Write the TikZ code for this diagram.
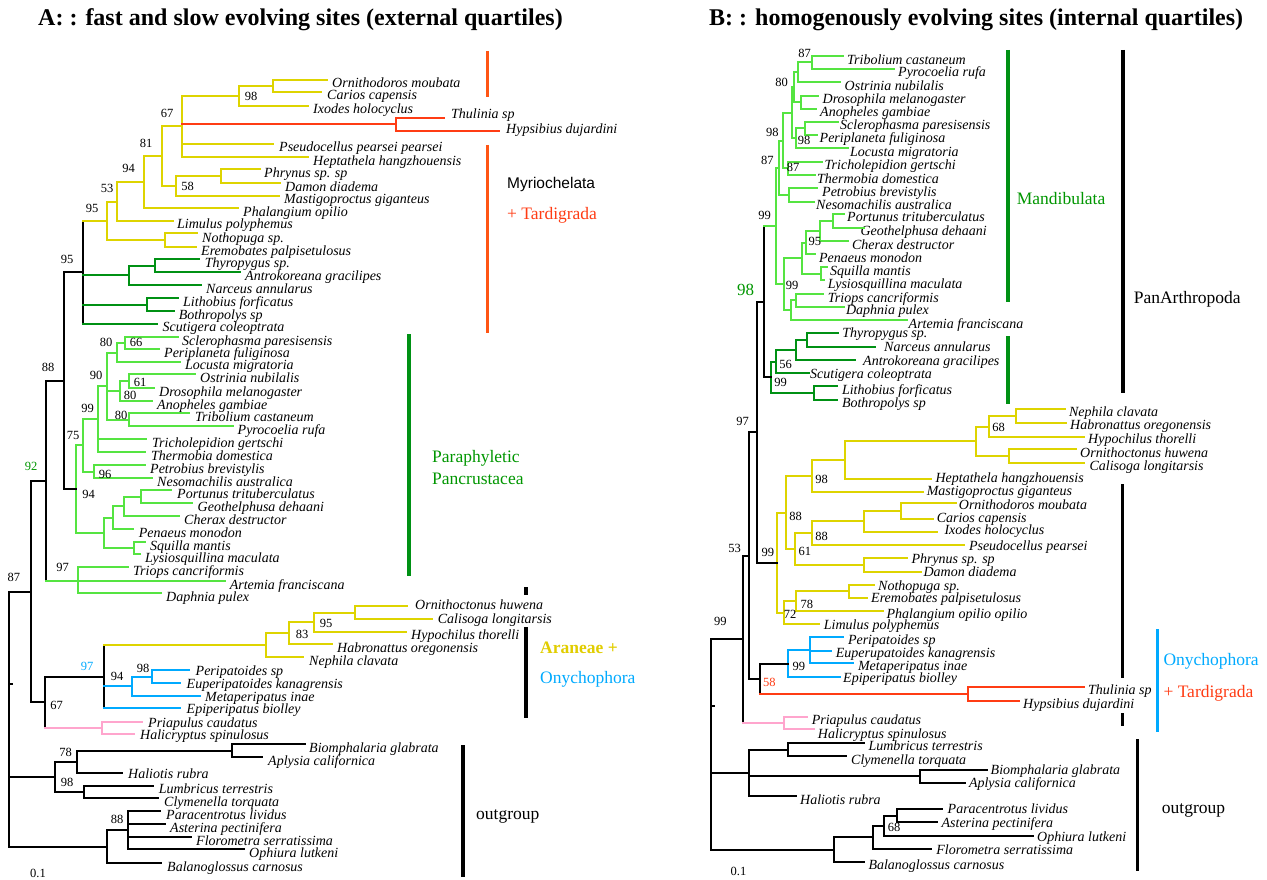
\documentclass[tikz,border=0pt]{standalone}
\usepackage{fontspec}
\setmainfont{Liberation Serif}
\newfontfamily\sansf{Liberation Sans}
\definecolor{cY}{RGB}{222,212,0}
\definecolor{cLG}{RGB}{85,228,65}
\definecolor{cDG}{RGB}{0,145,20}
\definecolor{cR}{RGB}{255,60,20}
\definecolor{cB}{RGB}{0,170,255}
\definecolor{cP}{RGB}{255,165,205}
\definecolor{cBarR}{RGB}{255,85,20}
\definecolor{cTxtG}{RGB}{0,150,0}
\definecolor{cTxtY}{RGB}{225,205,0}
\tikzset{
  ln/.style={line width=2pt,line cap=rect},
  lnY/.style={ln,draw=cY}, lnG/.style={ln,draw=cLG}, lnD/.style={ln,draw=cDG},
  lnR/.style={ln,draw=cR}, lnB/.style={ln,draw=cB}, lnP/.style={ln,draw=cP},
  lnK/.style={ln,draw=black},
  leaf/.style={anchor=base west,inner sep=0pt,font=\fontsize{14}{16}\selectfont\itshape},
  bs/.style={inner sep=0pt,font=\fontsize{12.5}{14}\selectfont},
  grp/.style={anchor=west,inner sep=0pt,font=\fontsize{17.5}{20}\selectfont},
  ttl/.style={anchor=base west,inner sep=0pt,font=\fontsize{24}{26}\selectfont\bfseries},
  gbar/.style={line width=3.5pt}
}
\newcommand\Lf[6]{\coordinate (#1) at (#2,#3);\node[leaf] (t#1) at (#4,#3+#5) {#6};}
\newcommand\Vt[4]{\draw[#1] (#2 |- #3) -- (#2 |- #4);}
\newcommand\Hz[3]{\draw[#1] (#2 |- #3) -- (#3);}
\newcommand\Bs[4]{\node[bs] (#1) at (#2,#3) {#4};}
\begin{document}
\begin{tikzpicture}[x=1pt,y=-1pt]
\useasboundingbox (0,0) rectangle (1267,880);
% titles
\node[ttl] (titleA) at (38,26) {A: : fast and slow evolving sites (external quartiles)};
\node[ttl] (titleB) at (709,26) {B: : homogenously evolving sites (internal quartiles)};
% ================= PANEL A leaves
\Lf{aOrn}{327}{80}{332}{7.5}{Ornithodoros moubata}
\Lf{aCar}{321}{92}{327}{8}{Carios capensis}
\Lf{aIxo}{308}{106}{313}{7.5}{Ixodes holocyclus}
\Lf{aThu}{444}{118}{451}{1}{Thulinia sp}
\Lf{aHyp}{499}{131}{506}{3}{Hypsibius dujardini}
\Lf{aPse}{273}{144}{279}{8}{Pseudocellus pearsei pearsei}
\Lf{aHep}{308}{157}{313}{8.5}{Heptathela hangzhouensis}
\Lf{aPhr}{260}{169}{264}{9}{Phrynus sp. sp}
\Lf{aDam}{280}{183}{285}{8}{Damon diadema}
\Lf{aMas}{279}{196}{284}{8}{Mastigoproctus giganteus}
\Lf{aPha}{237.5}{208}{243}{8}{Phalangium opilio}
\Lf{aLim}{172.5}{221}{177}{7.5}{Limulus polyphemus}
\Lf{aNot}{197}{233}{202}{9}{Nothopuga sp.}
\Lf{aEre}{196}{247}{201}{8}{Eremobates palpisetulosus}
\Lf{aThy}{199}{259}{204.6}{8}{Thyropygus sp.}
\Lf{aAnt}{240}{272}{245}{8}{Antrokoreana gracilipes}
\Lf{aNar}{200.7}{285}{206}{8}{Narceus annularus}
\Lf{aLit}{177.5}{298}{183}{8}{Lithobius forficatus}
\Lf{aBot}{174}{311}{178.6}{8.5}{Bothropolys sp}
\Lf{aScu}{157}{324}{162.5}{7.5}{Scutigera coleoptrata}
\Lf{aScl}{178}{337}{182}{8}{Sclerophasma paresisensis}
\Lf{aPer}{159}{349}{164}{8.5}{Periplaneta fuliginosa}
\Lf{aLoc}{180}{362}{185}{7.5}{Locusta migratoria}
\Lf{aOst}{195}{374}{200}{8}{Ostrinia nubilalis}
\Lf{aDro}{153.6}{388}{159}{8}{Drosophila melanogaster}
\Lf{aAno}{152}{401}{157}{8}{Anopheles gambiae}
\Lf{aTri}{188.6}{413}{195}{8}{Tribolium castaneum}
\Lf{aPyr}{233}{426}{237.5}{8}{Pyrocoelia rufa}
\Lf{aTcl}{146}{439}{152}{8}{Tricholepidion gertschi}
\Lf{aThe}{144.6}{452}{151}{8}{Thermobia domestica}
\Lf{aPet}{145}{465}{150}{8}{Petrobius brevistylis}
\Lf{aNes}{152}{478}{157}{8}{Nesomachilis australica}
\Lf{aPor}{171}{490}{177}{8}{Portunus trituberculatus}
\Lf{aGeo}{192}{503}{197.5}{8}{Geothelphusa dehaani}
\Lf{aChe}{178.6}{516}{184}{8}{Cherax destructor}
\Lf{aPen}{133}{529}{138.6}{8}{Penaeus monodon}
\Lf{aSqu}{144.6}{542}{150}{8}{Squilla mantis}
\Lf{aLys}{140}{554}{145}{8}{Lysiosquillina maculata}
\Lf{aTrp}{127.5}{567}{133}{8}{Triops cancriformis}
\Lf{aArt}{225}{581}{229.6}{8}{Artemia franciscana}
\Lf{aDap}{161}{593}{166}{8}{Daphnia pulex}
\Lf{aOrh}{407}{606}{415}{3}{Ornithoctonus huwena}
\Lf{aCal}{431.5}{619}{437.7}{4}{Calisoga longitarsis}
\Lf{aHpc}{406}{632}{411}{7.5}{Hypochilus thorelli}
\Lf{aHab}{332}{644}{337}{8}{Habronattus oregonensis}
\Lf{aNep}{303}{657}{309}{8}{Nephila clavata}
\Lf{aPep}{189}{670}{195.5}{5}{Peripatoides sp}
\Lf{aEup}{180}{683}{186.5}{5.5}{Euperipatoides kanagrensis}
\Lf{aMet}{199.6}{696}{205}{5}{Metaperipatus inae}
\Lf{aEpi}{180}{708}{186.5}{5}{Epiperipatus biolley}
\Lf{aPri}{142}{722}{148}{5}{Priapulus caudatus}
\Lf{aHal}{134}{734}{140}{5.5}{Halicryptus spinulosus}
\Lf{aBio}{305}{744}{309}{8}{Biomphalaria glabrata}
\Lf{aApl}{262}{757}{268}{8.5}{Aplysia californica}
\Lf{aHlt}{122}{773}{128}{5}{Haliotis rubra}
\Lf{aLum}{153}{786}{158.6}{7.5}{Lumbricus terrestris}
\Lf{aCly}{158}{798}{164}{8}{Clymenella torquata}
\Lf{aPar}{160}{811}{166}{8}{Paracentrotus lividus}
\Lf{aAst}{165}{824}{170}{8.5}{Asterina pectinifera}
\Lf{aFlo}{190.6}{837}{196}{8}{Florometra serratissima}
\Lf{aOph}{244}{849}{249}{8}{Ophiura lutkeni}
\Lf{aBal}{161}{863}{167}{8}{Balanoglossus carnosus}
% internal nodes A
\coordinate (A1) at (273,86);
\coordinate (A2) at (239,96);
\coordinate (A3) at (396,124.5);
\coordinate (A4) at (182,126.5);
\coordinate (A5) at (221,176);
\coordinate (A6) at (176,186);
\coordinate (A7) at (162,156.25);
\coordinate (A8) at (144,182.1);
\coordinate (A9) at (117,201.6);
\coordinate (A10) at (165,240);
\coordinate (A11) at (107,220.8);
\coordinate (A12) at (154.6,265.5);
\coordinate (A13) at (128.6,275.25);
\coordinate (A14) at (147,304.5);
\coordinate (A15) at (83,272.4);
\coordinate (A16) at (125,343);
\coordinate (A17) at (117,352.5);
\coordinate (A18) at (128.6,381);
\coordinate (A19) at (119.6,391);
\coordinate (A20) at (129,419.5);
\coordinate (A21) at (107,386);
\coordinate (A22) at (98,419);
\coordinate (A23) at (93.6,471.5);
\coordinate (A24) at (83,445.25);
\coordinate (A25) at (141,496.5);
\coordinate (A26) at (124,506.25);
\coordinate (A27) at (112.5,517.6);
\coordinate (A28) at (134,548);
\coordinate (A29) at (103.6,532.8);
\coordinate (A30) at (75.7,489);
\coordinate (A31) at (63.6,380.7);
\coordinate (A32) at (78,581);
\coordinate (A33) at (46,480.85);
\coordinate (A34) at (354.5,612.5);
\coordinate (A35) at (313.5,622.25);
\coordinate (A36) at (289,633.1);
\coordinate (A37) at (266,645);
\coordinate (A38) at (151.6,676.5);
\coordinate (A39) at (132,686.25);
\coordinate (A40) at (103.7,676.5);
\coordinate (A41) at (101.6,728);
\coordinate (A42) at (45,702.25);
\coordinate (A43) at (31,591.55);
\coordinate (A44) at (231.5,750.5);
\coordinate (A45) at (77,761.75);
\coordinate (A46) at (84,792);
\coordinate (A47) at (54.5,776.9);
\coordinate (A48) at (128,830);
\coordinate (A49) at (106.5,846.5);
\coordinate (A50) at (9,719);
\coordinate (aTick) at (12,684);
% edges A
\Vt{lnY}{A1}{aOrn}{aCar} \Hz{lnY}{A1}{aOrn} \Hz{lnY}{A1}{aCar}
\Vt{lnY}{A2}{A1}{aIxo} \Hz{lnY}{A2}{A1} \Hz{lnY}{A2}{aIxo}
\Vt{lnR}{A3}{aThu}{aHyp} \Hz{lnR}{A3}{aThu} \Hz{lnR}{A3}{aHyp}
\Vt{lnY}{A4}{A2}{aHep} \Hz{lnY}{A4}{A2} \Hz{lnR}{A4}{A3} \Hz{lnY}{A4}{aPse} \Hz{lnY}{A4}{aHep}
\Vt{lnY}{A5}{aPhr}{aDam} \Hz{lnY}{A5}{aPhr} \Hz{lnY}{A5}{aDam}
\Vt{lnY}{A6}{A5}{aMas} \Hz{lnY}{A6}{A5} \Hz{lnY}{A6}{aMas}
\Vt{lnY}{A7}{A4}{A6} \Hz{lnY}{A7}{A4} \Hz{lnY}{A7}{A6}
\Vt{lnY}{A8}{A7}{aPha} \Hz{lnY}{A8}{A7} \Hz{lnY}{A8}{aPha}
\Vt{lnY}{A9}{A8}{aLim} \Hz{lnY}{A9}{A8} \Hz{lnY}{A9}{aLim}
\Vt{lnY}{A10}{aNot}{aEre} \Hz{lnY}{A10}{aNot} \Hz{lnY}{A10}{aEre}
\Vt{lnY}{A11}{A9}{A10} \Hz{lnY}{A11}{A9} \Hz{lnY}{A11}{A10}
\Vt{lnD}{A12}{aThy}{aAnt} \Hz{lnD}{A12}{aThy} \Hz{lnD}{A12}{aAnt}
\Vt{lnD}{A13}{A12}{aNar} \Hz{lnD}{A13}{A12} \Hz{lnD}{A13}{aNar}
\Vt{lnD}{A14}{aLit}{aBot} \Hz{lnD}{A14}{aLit} \Hz{lnD}{A14}{aBot}
\Vt{lnK}{A15}{A11}{aScu} \Hz{lnY}{A15}{A11} \Hz{lnD}{A15}{A13} \Hz{lnD}{A15}{A14} \Hz{lnD}{A15}{aScu}
\Vt{lnG}{A16}{aScl}{aPer} \Hz{lnG}{A16}{aScl} \Hz{lnG}{A16}{aPer}
\Vt{lnG}{A17}{A16}{aLoc} \Hz{lnG}{A17}{A16} \Hz{lnG}{A17}{aLoc}
\Vt{lnG}{A18}{aOst}{aDro} \Hz{lnG}{A18}{aOst} \Hz{lnG}{A18}{aDro}
\Vt{lnG}{A19}{A18}{aAno} \Hz{lnG}{A19}{A18} \Hz{lnG}{A19}{aAno}
\Vt{lnG}{A20}{aTri}{aPyr} \Hz{lnG}{A20}{aTri} \Hz{lnG}{A20}{aPyr}
\Vt{lnG}{A21}{A17}{A20} \Hz{lnG}{A21}{A17} \Hz{lnG}{A21}{A19} \Hz{lnG}{A21}{A20}
\Vt{lnG}{A22}{A21}{aThe} \Hz{lnG}{A22}{A21} \Hz{lnG}{A22}{aTcl} \Hz{lnG}{A22}{aThe}
\Vt{lnG}{A23}{aPet}{aNes} \Hz{lnG}{A23}{aPet} \Hz{lnG}{A23}{aNes}
\Vt{lnG}{A24}{A22}{A23} \Hz{lnG}{A24}{A22} \Hz{lnG}{A24}{A23}
\Vt{lnG}{A25}{aPor}{aGeo} \Hz{lnG}{A25}{aPor} \Hz{lnG}{A25}{aGeo}
\Vt{lnG}{A26}{A25}{aChe} \Hz{lnG}{A26}{A25} \Hz{lnG}{A26}{aChe}
\Vt{lnG}{A27}{A26}{aPen} \Hz{lnG}{A27}{A26} \Hz{lnG}{A27}{aPen}
\Vt{lnG}{A28}{aSqu}{aLys} \Hz{lnG}{A28}{aSqu} \Hz{lnG}{A28}{aLys}
\Vt{lnG}{A29}{A27}{A28} \Hz{lnG}{A29}{A27} \Hz{lnG}{A29}{A28}
\Vt{lnG}{A30}{A24}{A29} \Hz{lnG}{A30}{A24} \Hz{lnG}{A30}{A29}
\Vt{lnK}{A31}{A15}{A30} \Hz{lnK}{A31}{A15} \Hz{lnK}{A31}{A30}
\Vt{lnG}{A32}{aTrp}{aDap} \Hz{lnG}{A32}{aTrp} \Hz{lnG}{A32}{aArt} \Hz{lnG}{A32}{aDap}
\Vt{lnK}{A33}{A31}{A32} \Hz{lnK}{A33}{A31} \Hz{lnG}{A33}{A32}
\Vt{lnY}{A34}{aOrh}{aCal} \Hz{lnY}{A34}{aOrh} \Hz{lnY}{A34}{aCal}
\Vt{lnY}{A35}{A34}{aHpc} \Hz{lnY}{A35}{A34} \Hz{lnY}{A35}{aHpc}
\Vt{lnY}{A36}{A35}{aHab} \Hz{lnY}{A36}{A35} \Hz{lnY}{A36}{aHab}
\Vt{lnY}{A37}{A36}{aNep} \Hz{lnY}{A37}{A36} \Hz{lnY}{A37}{aNep}
\Vt{lnB}{A38}{aPep}{aEup} \Hz{lnB}{A38}{aPep} \Hz{lnB}{A38}{aEup}
\Vt{lnB}{A39}{A38}{aMet} \Hz{lnB}{A39}{A38} \Hz{lnB}{A39}{aMet}
\Vt{lnK}{A40}{A37}{aEpi} \Hz{lnY}{A40}{A37} \Hz{lnB}{A40}{A39} \Hz{lnB}{A40}{aEpi}
\Vt{lnP}{A41}{aPri}{aHal} \Hz{lnP}{A41}{aPri} \Hz{lnP}{A41}{aHal}
\Vt{lnK}{A42}{A40}{A41} \Hz{lnK}{A42}{A40} \Hz{lnP}{A42}{A41}
\Vt{lnK}{A43}{A33}{A42} \Hz{lnK}{A43}{A33} \Hz{lnK}{A43}{A42}
\Vt{lnK}{A44}{aBio}{aApl} \Hz{lnK}{A44}{aBio} \Hz{lnK}{A44}{aApl}
\Vt{lnK}{A45}{A44}{aHlt} \Hz{lnK}{A45}{A44} \Hz{lnK}{A45}{aHlt}
\Vt{lnK}{A46}{aLum}{aCly} \Hz{lnK}{A46}{aLum} \Hz{lnK}{A46}{aCly}
\Vt{lnK}{A47}{A45}{A46} \Hz{lnK}{A47}{A45} \Hz{lnK}{A47}{A46}
\Vt{lnK}{A48}{aPar}{aOph} \Hz{lnK}{A48}{aPar} \Hz{lnK}{A48}{aAst} \Hz{lnK}{A48}{aFlo} \Hz{lnK}{A48}{aOph}
\Vt{lnK}{A49}{A48}{aBal} \Hz{lnK}{A49}{A48} \Hz{lnK}{A49}{aBal}
\Vt{lnK}{A50}{A43}{A49} \Hz{lnK}{A50}{A43} \Hz{lnK}{A50}{A47} \Hz{lnK}{A50}{A49}
\Hz{lnK}{A50}{aTick}
% bootstrap A
\Bs{sA1}{167}{113}{67} \Bs{sA2}{251}{96}{98} \Bs{sA3}{146}{143}{81}
\Bs{sA4}{187.5}{186}{58} \Bs{sA5}{128.6}{168}{94} \Bs{sA6}{107}{188}{53}
\Bs{sA7}{92}{208}{95} \Bs{sA8}{67}{259}{95} \Bs{sA9}{48}{367}{88}
\Bs{sA10}{106}{342}{80} \Bs{sA11}{136}{342}{66} \Bs{sA12}{96}{375}{90}
\Bs{sA13}{140}{382}{61} \Bs{sA14}{130}{395}{80} \Bs{sA15}{121}{415}{80}
\Bs{sA16}{87.5}{408}{99} \Bs{sA17}{73}{435}{75} \Bs{sA18}{105}{474}{96}
\Bs{sA19}{88.6}{494}{94} \Bs{sA21}{62.5}{567}{97} \Bs{sA22}{14}{577}{87}
\Bs{sA23}{326}{623}{95} \Bs{sA24}{302}{634}{83} \Bs{sA26}{117}{676}{94}
\Bs{sA27}{143}{668}{98} \Bs{sA28}{56.5}{705}{67} \Bs{sA29}{65.6}{752}{78}
\Bs{sA30}{67}{782}{98} \Bs{sA31}{117}{819}{88} \Bs{sA32}{38}{873}{0.1}
\node[bs,text=cTxtG] (sA20) at (31,466) {92};
\node[bs,text=cB] (sA25) at (87,666) {97};
% group bars A
\draw[gbar,cBarR] (487.5,51) coordinate (rA1) -- (487.5,97.3) coordinate (rA2);
\draw[gbar,cBarR] (487.5,145) coordinate (rA3) -- (487.5,333.3) coordinate (rA4);
\draw[gbar,cDG] (409,334.3) coordinate (gA1) -- (409,576) coordinate (gA2);
\draw[gbar,black] (525.8,587.3) coordinate (kA1) -- (525.8,595) coordinate (kA2);
\draw[gbar,black] (525.8,627.3) coordinate (kA3) -- (525.8,718.3) coordinate (kA4);
\draw[gbar,black] (463,745) coordinate (kA5) -- (463,876.7) coordinate (kA6);
\node[anchor=west,inner sep=0pt,font=\sansf\fontsize{15.5}{18}\selectfont] (lMyr) at (507,184) {Myriochelata};
\node[grp,text=cR] (lTarA) at (507,215.7) {+ Tardigrada};
\node[grp,text=cTxtG] (lPar) at (432,458.3) {Paraphyletic};
\node[grp,text=cTxtG] (lPan) at (432,479) {Pancrustacea};
\node[grp,text=cTxtY,font=\fontsize{17.5}{20}\selectfont\bfseries] (lAra) at (540,647.7) {Araneae +};
\node[grp,text=cB] (lOnyA) at (540,679.3) {Onychophora};
\node[grp] (lOutA) at (476,816.7) {outgroup};
% ================= PANEL B leaves
\Lf{bTri}{843}{55.7}{847}{8.5}{Tribolium castaneum}
\Lf{bPyr}{894.4}{69}{898}{8}{Pyrocoelia rufa}
\Lf{bOst}{840}{82.3}{844.5}{8}{Ostrinia nubilalis}
\Lf{bDro}{818.3}{96}{822.5}{8}{Drosophila melanogaster}
\Lf{bAno}{816}{109}{820}{8}{Anopheles gambiae}
\Lf{bScl}{838}{121.7}{840}{8}{Sclerophasma paresisensis}
\Lf{bPer}{816.7}{135}{819.5}{7.5}{Periplaneta fuliginosa}
\Lf{bLoc}{848}{148.3}{850}{8}{Locusta migratoria}
\Lf{bTcl}{821.7}{161.7}{824.5}{8}{Tricholepidion gertschi}
\Lf{bThe}{815}{175}{817}{8}{Thermobia domestica}
\Lf{bPet}{817}{188.3}{822}{8}{Petrobius brevistylis}
\Lf{bNes}{814}{201.7}{816}{8}{Nesomachilis australica}
\Lf{bPor}{844}{214}{847}{7.5}{Portunus trituberculatus}
\Lf{bGeo}{864}{227.7}{860.3}{8}{Geothelphusa dehaani}
\Lf{bChe}{848}{241}{851.8}{8}{Cherax destructor}
\Lf{bPen}{815}{254}{818.9}{8}{Penaeus monodon}
\Lf{bSqu}{827}{267}{830}{8}{Squilla mantis}
\Lf{bLys}{824}{280}{827.7}{8}{Lysiosquillina maculata}
\Lf{bTrp}{823}{294}{827.7}{8}{Triops cancriformis}
\Lf{bDap}{844}{306.7}{845.8}{8}{Daphnia pulex}
\Lf{bArt}{907}{320}{908.5}{8}{Artemia franciscana}
\Lf{bThy}{837.7}{333}{842.2}{4}{Thyropygus sp.}
\Lf{bNar}{875}{346.7}{884}{5}{Narceus annularus}
\Lf{bAnt}{855}{360}{863}{5}{Antrokoreana gracilipes}
\Lf{bScu}{808.8}{373}{810}{5.5}{Scutigera coleoptrata}
\Lf{bLit}{837}{386}{841.8}{8}{Lithobius forficatus}
\Lf{bBot}{837}{400}{841.8}{7}{Bothropolys sp}
\Lf{bNep}{1064.8}{409.3}{1068.9}{7}{Nephila clavata}
\Lf{bHab}{1066}{423.3}{1070}{6}{Habronattus oregonensis}
\Lf{bHpc}{1084}{436.7}{1088}{7}{Hypochilus thorelli}
\Lf{bOrh}{1076}{449.3}{1080}{8}{Ornithoctonus huwena}
\Lf{bCal}{1084}{462.7}{1089.4}{8}{Calisoga longitarsis}
\Lf{bHep}{931.4}{479}{935.4}{3.5}{Heptathela hangzhouensis}
\Lf{bMas}{922.6}{492.3}{926.6}{3.5}{Mastigoproctus giganteus}
\Lf{bOrn}{955.5}{503.3}{958.7}{6}{Ornithodoros moubata}
\Lf{bCar}{932.6}{519}{936.6}{3.5}{Carios capensis}
\Lf{bIxo}{937.4}{531.7}{944.3}{2.5}{Ixodes holocyclus}
\Lf{bPse}{963.5}{545}{968.8}{5}{Pseudocellus pearsei}
\Lf{bPhr}{907.3}{558.3}{911.3}{5}{Phrynus sp. sp}
\Lf{bDam}{921.3}{571.7}{923.4}{4.5}{Damon diadema}
\Lf{bNot}{874.3}{585}{878}{5}{Nothopuga sp.}
\Lf{bEre}{867}{597.7}{871}{5}{Eremobates palpisetulosus}
\Lf{bPha}{883.2}{611}{886.4}{7}{Phalangium opilio opilio}
\Lf{bLim}{818.9}{624}{823.7}{5}{Limulus polyphemus}
\Lf{bPep}{843}{637.3}{847.8}{7}{Peripatoides sp}
\Lf{bEup}{831}{650.7}{835.7}{6.5}{Euperupatoides kanagrensis}
\Lf{bMet}{853}{663.3}{857.8}{7}{Metaperipatus inae}
\Lf{bEpi}{839.8}{677.3}{843}{5}{Epiperipatus biolley}
\Lf{bThu}{1084}{687.3}{1088}{7}{Thulinia sp}
\Lf{bHyp}{1019}{700.7}{1023}{7.5}{Hypsibius dujardini}
\Lf{bPri}{806.8}{716.7}{811.6}{8}{Priapulus caudatus}
\Lf{bHal}{813.6}{729.3}{817.7}{9}{Halicryptus spinulosus}
\Lf{bLum}{863.9}{743.3}{868.3}{7}{Lumbricus terrestris}
\Lf{bCly}{846}{756}{851}{8}{Clymenella torquata}
\Lf{bBio}{986.5}{770}{990.5}{4.5}{Biomphalaria glabrata}
\Lf{bApl}{964.8}{782.7}{968.8}{4.5}{Aplysia californica}
\Lf{bHlt}{796}{796}{800}{8}{Haliotis rubra}
\Lf{bPar}{942.3}{809.3}{947.5}{4.5}{Paracentrotus lividus}
\Lf{bAst}{936.6}{822.3}{941.4}{5}{Asterina pectinifera}
\Lf{bOph}{1033}{835.7}{1037}{5.5}{Ophiura lutkeni}
\Lf{bFlo}{931.4}{849}{936.2}{5}{Florometra serratissima}
\Lf{bBal}{863.9}{862.3}{868.3}{7}{Balanoglossus carnosus}
% internal nodes B
\coordinate (B1) at (811.7,62.35);
\coordinate (B2) at (798.3,72.3);
\coordinate (B3) at (800.7,102.5);
\coordinate (B4) at (794,87.4);
\coordinate (B5) at (805,128.35);
\coordinate (B6) at (795.7,138.3);
\coordinate (B7) at (791.7,112.9);
\coordinate (B8) at (787.7,168.35);
\coordinate (B9) at (782.7,140.6);
\coordinate (B10) at (789.3,195);
\coordinate (B11) at (779.3,167.8);
\coordinate (B12) at (833,220.85);
\coordinate (B13) at (819.7,230.9);
\coordinate (B14) at (805.6,242.5);
\coordinate (B15) at (820.9,273.5);
\coordinate (B16) at (801.6,258);
\coordinate (B17) at (795.5,300.35);
\coordinate (B18) at (790.7,310.2);
\coordinate (B19) at (783.5,284.1);
\coordinate (B20) at (775.8,226);
\coordinate (B21) at (806.8,339.85);
\coordinate (B22) at (795.5,349.9);
\coordinate (B23) at (775.8,361.5);
\coordinate (B24) at (814,393);
\coordinate (B25) at (770.6,377.2);
\coordinate (B26) at (763.8,301.6);
\coordinate (B27) at (1015.8,416.3);
\coordinate (B28) at (988.5,426.5);
\coordinate (B29) at (1009,456);
\coordinate (B30) at (975.6,441.25);
\coordinate (B31) at (845,460.1);
\coordinate (B32) at (812,476.2);
\coordinate (B33) at (900.5,511.15);
\coordinate (B34) at (863.9,521.4);
\coordinate (B35) at (811.6,533.2);
\coordinate (B36) at (863.9,565);
\coordinate (B37) at (794.7,549.1);
\coordinate (B38) at (785.5,512.65);
\coordinate (B39) at (849,591.35);
\coordinate (B40) at (795.5,601.2);
\coordinate (B41) at (783.5,612.6);
\coordinate (B42) at (776.7,562.6);
\coordinate (B43) at (757.4,432.1);
\coordinate (B44) at (809.6,650.3);
\coordinate (B45) at (787.9,663.8);
\coordinate (B46) at (967.6,694);
\coordinate (B47) at (759.8,678.9);
\coordinate (B48) at (749.3,555.5);
\coordinate (B49) at (783.5,723);
\coordinate (B50) at (742.5,639.25);
\coordinate (B51) at (787.9,749.65);
\coordinate (B52) at (920,776.35);
\coordinate (B53) at (749.3,772.8);
\coordinate (B54) at (897.2,815.8);
\coordinate (B55) at (884,825.75);
\coordinate (B56) at (873,837.4);
\coordinate (B57) at (834,849.85);
\coordinate (B58) at (711,744.5);
\coordinate (bTick) at (714,706);
% edges B
\Vt{lnG}{B1}{bTri}{bPyr} \Hz{lnG}{B1}{bTri} \Hz{lnG}{B1}{bPyr}
\Vt{lnG}{B2}{B1}{bOst} \Hz{lnG}{B2}{B1} \Hz{lnG}{B2}{bOst}
\Vt{lnG}{B3}{bDro}{bAno} \Hz{lnG}{B3}{bDro} \Hz{lnG}{B3}{bAno}
\Vt{lnG}{B4}{B2}{B3} \Hz{lnG}{B4}{B2} \Hz{lnG}{B4}{B3}
\Vt{lnG}{B5}{bScl}{bPer} \Hz{lnG}{B5}{bScl} \Hz{lnG}{B5}{bPer}
\Vt{lnG}{B6}{B5}{bLoc} \Hz{lnG}{B6}{B5} \Hz{lnG}{B6}{bLoc}
\Vt{lnG}{B7}{B4}{B6} \Hz{lnG}{B7}{B4} \Hz{lnG}{B7}{B6}
\Vt{lnG}{B8}{bTcl}{bThe} \Hz{lnG}{B8}{bTcl} \Hz{lnG}{B8}{bThe}
\Vt{lnG}{B9}{B7}{B8} \Hz{lnG}{B9}{B7} \Hz{lnG}{B9}{B8}
\Vt{lnG}{B10}{bPet}{bNes} \Hz{lnG}{B10}{bPet} \Hz{lnG}{B10}{bNes}
\Vt{lnG}{B11}{B9}{B10} \Hz{lnG}{B11}{B9} \Hz{lnG}{B11}{B10}
\Vt{lnG}{B12}{bPor}{bGeo} \Hz{lnG}{B12}{bPor} \Hz{lnG}{B12}{bGeo}
\Vt{lnG}{B13}{B12}{bChe} \Hz{lnG}{B13}{B12} \Hz{lnG}{B13}{bChe}
\Vt{lnG}{B14}{B13}{bPen} \Hz{lnG}{B14}{B13} \Hz{lnG}{B14}{bPen}
\Vt{lnG}{B15}{bSqu}{bLys} \Hz{lnG}{B15}{bSqu} \Hz{lnG}{B15}{bLys}
\Vt{lnG}{B16}{B14}{B15} \Hz{lnG}{B16}{B14} \Hz{lnG}{B16}{B15}
\Vt{lnG}{B17}{bTrp}{bDap} \Hz{lnG}{B17}{bTrp} \Hz{lnG}{B17}{bDap}
\Vt{lnG}{B18}{B17}{bArt} \Hz{lnG}{B18}{B17} \Hz{lnG}{B18}{bArt}
\Vt{lnG}{B19}{B16}{B18} \Hz{lnG}{B19}{B16} \Hz{lnG}{B19}{B18}
\Vt{lnG}{B20}{B11}{B19} \Hz{lnG}{B20}{B11} \Hz{lnG}{B20}{B19}
\Vt{lnD}{B21}{bThy}{bNar} \Hz{lnD}{B21}{bThy} \Hz{lnD}{B21}{bNar}
\Vt{lnD}{B22}{B21}{bAnt} \Hz{lnD}{B22}{B21} \Hz{lnD}{B22}{bAnt}
\Vt{lnD}{B23}{B22}{bScu} \Hz{lnD}{B23}{B22} \Hz{lnD}{B23}{bScu}
\Vt{lnD}{B24}{bLit}{bBot} \Hz{lnD}{B24}{bLit} \Hz{lnD}{B24}{bBot}
\Vt{lnD}{B25}{B23}{B24} \Hz{lnD}{B25}{B23} \Hz{lnD}{B25}{B24}
\Vt{lnK}{B26}{B20}{B25} \Hz{lnG}{B26}{B20} \Hz{lnK}{B26}{B25}
\Vt{lnY}{B27}{bNep}{bHab} \Hz{lnY}{B27}{bNep} \Hz{lnY}{B27}{bHab}
\Vt{lnY}{B28}{B27}{bHpc} \Hz{lnY}{B28}{B27} \Hz{lnY}{B28}{bHpc}
\Vt{lnY}{B29}{bOrh}{bCal} \Hz{lnY}{B29}{bOrh} \Hz{lnY}{B29}{bCal}
\Vt{lnY}{B30}{B28}{B29} \Hz{lnY}{B30}{B28} \Hz{lnY}{B30}{B29}
\Vt{lnY}{B31}{B30}{bHep} \Hz{lnY}{B31}{B30} \Hz{lnY}{B31}{bHep}
\Vt{lnY}{B32}{B31}{bMas} \Hz{lnY}{B32}{B31} \Hz{lnY}{B32}{bMas}
\Vt{lnY}{B33}{bOrn}{bCar} \Hz{lnY}{B33}{bOrn} \Hz{lnY}{B33}{bCar}
\Vt{lnY}{B34}{B33}{bIxo} \Hz{lnY}{B34}{B33} \Hz{lnY}{B34}{bIxo}
\Vt{lnY}{B35}{B34}{bPse} \Hz{lnY}{B35}{B34} \Hz{lnY}{B35}{bPse}
\Vt{lnY}{B36}{bPhr}{bDam} \Hz{lnY}{B36}{bPhr} \Hz{lnY}{B36}{bDam}
\Vt{lnY}{B37}{B35}{B36} \Hz{lnY}{B37}{B35} \Hz{lnY}{B37}{B36}
\Vt{lnY}{B38}{B32}{B37} \Hz{lnY}{B38}{B32} \Hz{lnY}{B38}{B37}
\Vt{lnY}{B39}{bNot}{bEre} \Hz{lnY}{B39}{bNot} \Hz{lnY}{B39}{bEre}
\Vt{lnY}{B40}{B39}{bPha} \Hz{lnY}{B40}{B39} \Hz{lnY}{B40}{bPha}
\Vt{lnY}{B41}{B40}{bLim} \Hz{lnY}{B41}{B40} \Hz{lnY}{B41}{bLim}
\Vt{lnY}{B42}{B38}{B41} \Hz{lnY}{B42}{B38} \Hz{lnY}{B42}{B41}
\Vt{lnK}{B43}{B26}{B42} \Hz{lnK}{B43}{B26} \Hz{lnK}{B43}{B42}
\Vt{lnB}{B44}{bPep}{bMet} \Hz{lnB}{B44}{bPep} \Hz{lnB}{B44}{bEup} \Hz{lnB}{B44}{bMet}
\Vt{lnB}{B45}{B44}{bEpi} \Hz{lnB}{B45}{B44} \Hz{lnB}{B45}{bEpi}
\Vt{lnR}{B46}{bThu}{bHyp} \Hz{lnR}{B46}{bThu} \Hz{lnR}{B46}{bHyp}
\Vt{lnK}{B47}{B45}{B46} \Hz{lnK}{B47}{B45} \Hz{lnR}{B47}{B46}
\Vt{lnK}{B48}{B43}{B47} \Hz{lnK}{B48}{B43} \Hz{lnK}{B48}{B47}
\Vt{lnP}{B49}{bPri}{bHal} \Hz{lnP}{B49}{bPri} \Hz{lnP}{B49}{bHal}
\Vt{lnK}{B50}{B48}{B49} \Hz{lnK}{B50}{B48} \Hz{lnP}{B50}{B49}
\Vt{lnK}{B51}{bLum}{bCly} \Hz{lnK}{B51}{bLum} \Hz{lnK}{B51}{bCly}
\Vt{lnK}{B52}{bBio}{bApl} \Hz{lnK}{B52}{bBio} \Hz{lnK}{B52}{bApl}
\Vt{lnK}{B53}{B51}{bHlt} \Hz{lnK}{B53}{B51} \Hz{lnK}{B53}{B52} \Hz{lnK}{B53}{bHlt}
\Vt{lnK}{B54}{bPar}{bAst} \Hz{lnK}{B54}{bPar} \Hz{lnK}{B54}{bAst}
\Vt{lnK}{B55}{B54}{bOph} \Hz{lnK}{B55}{B54} \Hz{lnK}{B55}{bOph}
\Vt{lnK}{B56}{B55}{bFlo} \Hz{lnK}{B56}{B55} \Hz{lnK}{B56}{bFlo}
\Vt{lnK}{B57}{B56}{bBal} \Hz{lnK}{B57}{B56} \Hz{lnK}{B57}{bBal}
\Vt{lnK}{B58}{B50}{B57} \Hz{lnK}{B58}{B50} \Hz{lnK}{B58}{B53} \Hz{lnK}{B58}{B57}
\Hz{lnK}{B58}{bTick}
% bootstrap B
\Bs{sB1}{804.5}{53}{87} \Bs{sB2}{781.7}{82.7}{80} \Bs{sB3}{804}{140}{98}
\Bs{sB4}{772.3}{132.7}{98} \Bs{sB5}{793}{167.7}{87} \Bs{sB6}{767.3}{160.7}{87}
\Bs{sB7}{814.8}{241}{95} \Bs{sB8}{792}{285}{99} \Bs{sB9}{764.6}{215}{99}
\Bs{sB11}{785.5}{364.3}{56} \Bs{sB12}{780.7}{382.7}{99} \Bs{sB13}{742.5}{421.7}{97}
\Bs{sB14}{998.5}{427.3}{68} \Bs{sB15}{821.7}{479.3}{98} \Bs{sB16}{795.5}{516}{88}
\Bs{sB17}{821.7}{536.7}{88} \Bs{sB18}{804.8}{551.7}{61} \Bs{sB19}{767.8}{552.7}{99}
\Bs{sB20}{734.5}{548.3}{53} \Bs{sB21}{806.8}{604}{78} \Bs{sB22}{790}{614}{72}
\Bs{sB23}{720.4}{621.7}{99} \Bs{sB24}{798.8}{666}{99} \Bs{sB26}{894}{827.7}{68}
\Bs{sB27}{738.5}{871.7}{0.1}
\node[inner sep=0pt,text=cTxtG,font=\fontsize{17}{19}\selectfont] (sB10) at (745.7,290) {98};
\node[bs,text=cR] (sB25) at (769.4,682.7) {58};
% group bars B
\draw[gbar,cDG] (1007.8,50) coordinate (gB1) -- (1007.8,301.7) coordinate (gB2);
\draw[gbar,cDG] (1007.8,336) coordinate (gB3) -- (1007.8,404) coordinate (gB4);
\draw[gbar,black] (1123,50) coordinate (kB1) -- (1123,392.7) coordinate (kB2);
\draw[gbar,black] (1122.3,484.3) coordinate (kB3) -- (1122.3,678.3) coordinate (kB4);
\draw[gbar,black] (1122.3,713.3) coordinate (kB5) -- (1122.3,726) coordinate (kB6);
\draw[gbar,cB] (1157.7,629.3) coordinate (bB1) -- (1157.7,731.7) coordinate (bB2);
\draw[gbar,black] (1137.6,739) coordinate (kB7) -- (1137.6,871) coordinate (kB8);
\node[grp,text=cTxtG] (lMan) at (1016.6,198.3) {Mandibulata};
\node[grp] (lPanA) at (1133.6,299.3) {PanArthropoda};
\node[grp,text=cB] (lOnyB) at (1163.3,661.7) {Onychophora};
\node[grp,text=cR] (lTarB) at (1163.3,693.3) {+ Tardigrada};
\node[grp] (lOutB) at (1161.7,810) {outgroup};
\end{tikzpicture}
\end{document}
